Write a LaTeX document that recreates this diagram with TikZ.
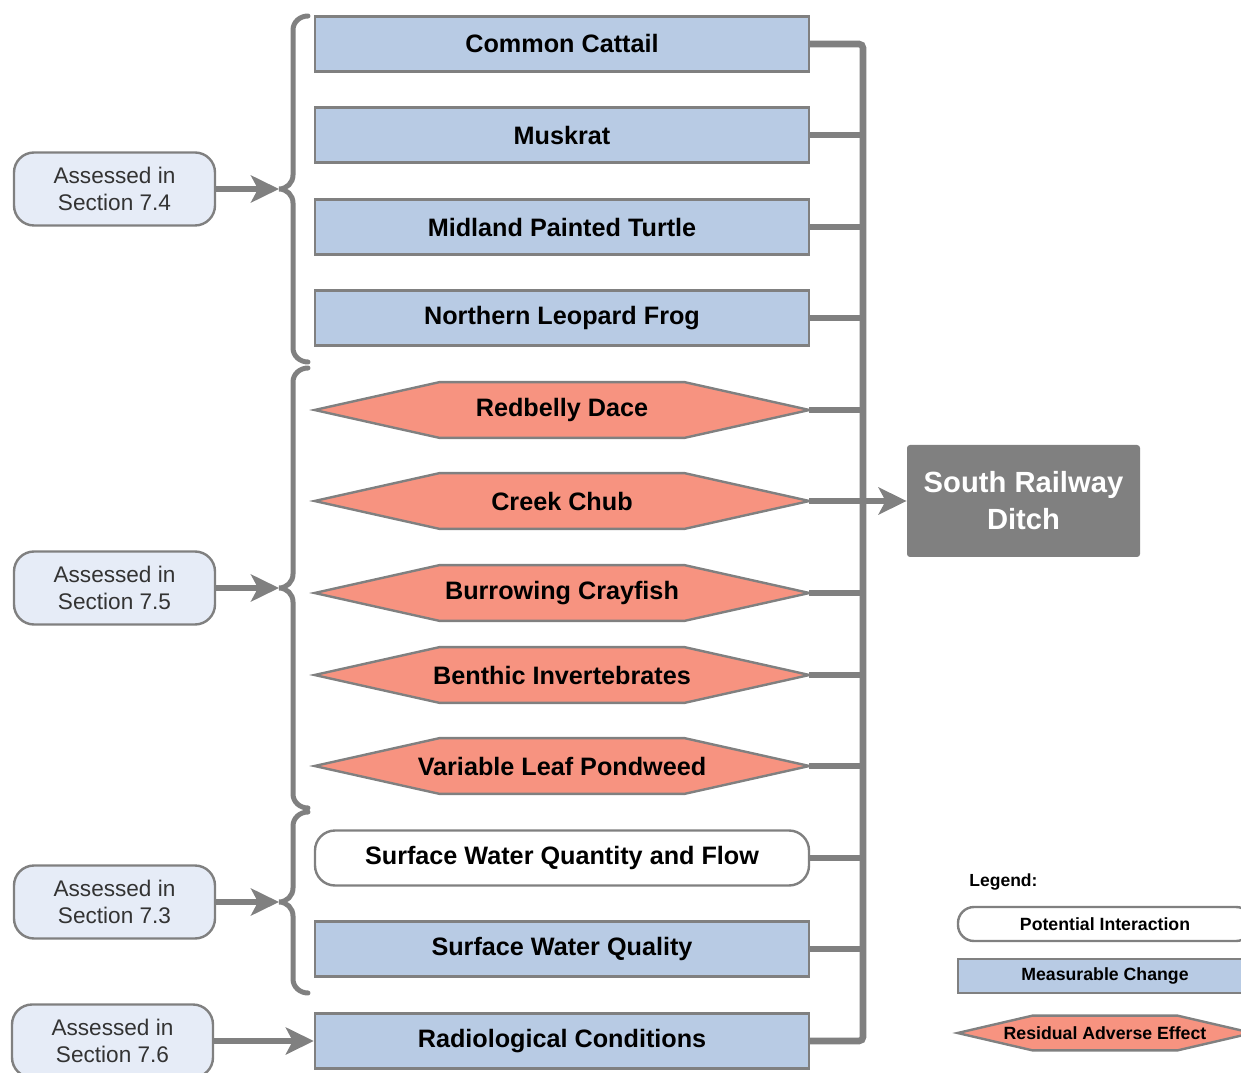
\documentclass[tikz,border=0pt]{standalone}
\usepackage{fontspec}
\setmainfont{Liberation Sans}
\usetikzlibrary{arrows.meta,backgrounds}

\definecolor{linegray}{RGB}{128,128,128}
\definecolor{changeblue}{RGB}{184,203,228}
\definecolor{effectred}{RGB}{247,147,128}
\definecolor{assessblue}{RGB}{230,236,247}
\definecolor{textgray}{RGB}{51,51,51}

\tikzset{
  vc/.style={minimum width=247pt,minimum height=27.5pt,inner sep=0pt,
    font=\bfseries\fontsize{12.6}{15}\selectfont},
  change/.style={vc,draw=linegray,line width=1.2pt,fill=changeblue},
  interaction/.style={vc,draw=linegray,line width=1.2pt,fill=white,rounded corners=10pt},
  effect/.style={vc},
  hexline/.style={draw=linegray,line width=1.2pt,fill=effectred,line join=miter},
  assessed/.style={draw=linegray,line width=1.2pt,fill=assessblue,rounded corners=10pt,
    minimum width=100.5pt,minimum height=36.5pt,inner sep=0pt,align=center,
    text=textgray,font=\fontsize{11.3}{13.5}\selectfont},
  ditch/.style={fill=linegray,rounded corners=1.5pt,minimum width=116.5pt,minimum height=56pt,
    inner sep=0pt,align=center,text=white,font=\bfseries\fontsize{14.6}{18.5}\selectfont},
  legbox/.style={minimum width=147pt,minimum height=17pt,inner sep=0pt,
    font=\bfseries\fontsize{8.85}{10}\selectfont},
  bus/.style={draw=linegray,line width=3.3pt},
  brace/.style={draw=linegray,line width=2.5pt,line cap=round},
  feed/.style={draw=linegray,line width=3pt,-{Stealth[length=14pt,width=13.5pt,inset=3.5pt]}},
}

\begin{document}
\begin{tikzpicture}[x=0.5pt,y=0.5pt]
\useasboundingbox (0,0) rectangle (1241,1072);
\clip (0,0) rectangle (1241,1072);

% valued components, top to bottom
\foreach \n/\y/\s/\t in {cattail/1028/change/Common Cattail,
    muskrat/937/change/Muskrat,
    turtle/845/change/Midland Painted Turtle,
    frog/754/change/Northern Leopard Frog,
    dace/662/effect/Redbelly Dace,
    chub/571/effect/Creek Chub,
    crayfish/479/effect/Burrowing Crayfish,
    benthic/397/effect/Benthic Invertebrates,
    pondweed/306/effect/Variable Leaf Pondweed,
    quantity/214/interaction/Surface Water Quantity and Flow,
    quality/123/change/Surface Water Quality,
    radio/31/change/Radiological Conditions}{
  \node[\s] (\n) at (562,\y) {\t};
}

\node[ditch] (ditch) at (1023.5,571) {South Railway\\Ditch};

% section boxes
\node[assessed] (s74) at (114.5,883) {Assessed in\\Section 7.4};
\node[assessed] (s75) at (114.5,484) {Assessed in\\Section 7.5};
\node[assessed] (s73) at (114.5,170) {Assessed in\\Section 7.3};
\node[assessed] (s76) at (112.5,31) {Assessed in\\Section 7.6};

% legend
\node[anchor=west,inner sep=0pt,font=\bfseries\fontsize{8.75}{10}\selectfont] (legend) at (969,190) {Legend:};
\node[legbox,draw=linegray,line width=1.2pt,fill=white,rounded corners=8pt] (lint) at (1105,148) {Potential Interaction};
\node[legbox,draw=linegray,line width=1.2pt,fill=changeblue] (lchange) at (1105,96) {Measurable Change};
\node[legbox] (leffect) at (1105,39) {Residual Adverse Effect};

% hexagons behind the effect labels
\begin{scope}[on background layer]
\clip (0,0) rectangle (1241,1072);
\foreach \n in {dace,chub,crayfish,benthic,pondweed}
  \draw[hexline] (\n.west) -- ([xshift=62.5pt]\n.north west) -- ([xshift=-62.5pt]\n.north east)
    -- (\n.east) -- ([xshift=-62.5pt]\n.south east) -- ([xshift=62.5pt]\n.south west) -- cycle;
\draw[hexline] (leffect.west) -- ([xshift=37.5pt]leffect.north west) -- ([xshift=-37.5pt]leffect.north east)
  -- (leffect.east) -- ([xshift=-37.5pt]leffect.south east) -- ([xshift=37.5pt]leffect.south west) -- cycle;
\end{scope}

% collector bus
\coordinate (bus) at (863,0);
\draw[bus,rounded corners=2pt] (cattail.east) -- (cattail.east -| bus) -- (radio.east -| bus) -- (radio.east);
\foreach \n in {muskrat,turtle,frog,dace,crayfish,benthic,pondweed,quantity,quality}
  \draw[bus] (\n.east) -- (\n.east -| bus);
\draw[feed,line width=3.3pt] (chub.east) -- (ditch.west);

% braces
\foreach \t/\m/\b/\n in {1056/883/710/b74,704/484/264/b75,260/170/79/b73}{
  \coordinate (\n) at (279,\m);
  \draw[brace] (308,\t) to[out=180,in=90] (293,\t-14) -- (293,\m+14) to[out=-90,in=0] (\n)
    to[out=0,in=90] (293,\m-14) -- (293,\b+14) to[out=-90,in=180] (308,\b);
}

\draw[feed] (s74.east) -- (b74);
\draw[feed] (s75.east) -- (b75);
\draw[feed] (s73.east) -- (b73);
\draw[feed] (s76.east) -- (radio.west);

\end{tikzpicture}
\end{document}
